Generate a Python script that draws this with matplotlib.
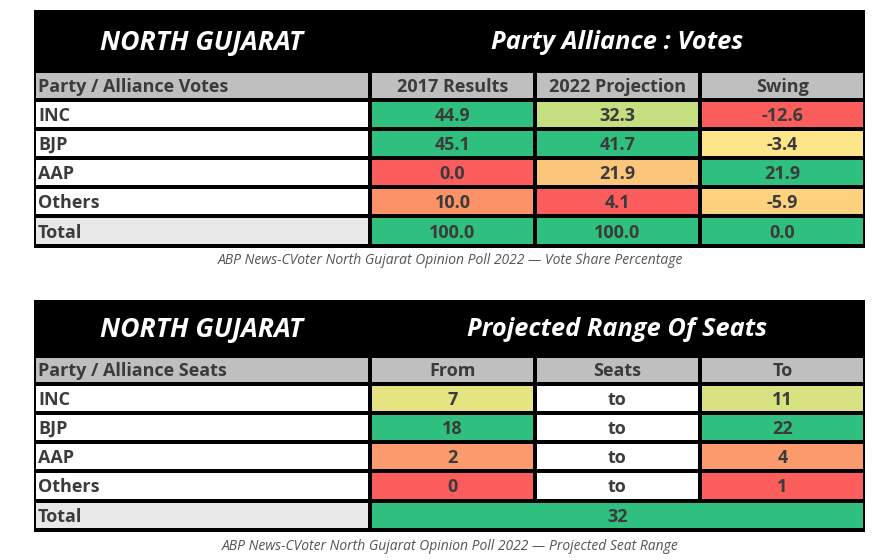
import matplotlib
matplotlib.use("Agg")
import matplotlib.pyplot as plt
from matplotlib.patches import Rectangle

# ---- data ----
parties = ["INC", "BJP", "AAP", "Others"]
vote_cols = ["2017 Results", "2022 Projection", "Swing"]
votes_2017 = [44.9, 45.1, 0.0, 10.0]
votes_2022 = [32.3, 41.7, 21.9, 4.1]
swing = [-12.6, -3.4, 21.9, -5.9]
total_votes = [100.0, 100.0, 0.0]

seat_cols = ["From", "Seats", "To"]
seats_from = [7, 18, 2, 0]
seats_to = [11, 22, 4, 1]
total_seats = 32

# colours of the reference's conditional formatting
GREEN = "#2fbf7f"
vote_colors = [
    [GREEN, "#c4de80", "#fb5c5c"],
    [GREEN, GREEN, "#fee58a"],
    ["#fb5c5c", "#fbc67c", GREEN],
    ["#fb9268", "#fb5c5c", "#fcd27e"],
]
seat_colors = [
    ["#e6e382", "white", "#d9e282"],
    [GREEN, "white", GREEN],
    ["#fb9a6c", "white", "#fb9a6c"],
    ["#fb5c5c", "white", "#fb5c5c"],
]

W, H = 884, 560
fig = plt.figure(figsize=(W / 100, H / 100), dpi=100)
ax = fig.add_axes([0, 0, 1, 1])
ax.set_xlim(0, W)
ax.set_ylim(H, 0)
ax.axis("off")

FONT = "Open Sans"
TXT = "#3b3b3b"
BODY = 13
col_x = [34, 370, 535, 700, 865]
g = 1.6


def cell(x0, x1, y0, y1, color):
    ax.add_patch(Rectangle((x0 + g, y0 + g), x1 - x0 - 2 * g, y1 - y0 - 2 * g,
                           facecolor=color, edgecolor="none", zorder=2))


def txt(x, y, s, ha="center", **kw):
    ax.text(x, y, s, fontsize=BODY, fontweight="bold", family=FONT, color=TXT,
            ha=ha, va="center", zorder=3, **kw)


def draw_table(top, title_bottom, row_edges, title_left, title_right,
               head_label, cols, body_text, body_colors, total_cells, caption, cap_y):
    bottom = row_edges[-1] + 2
    ax.add_patch(Rectangle((col_x[0], top), col_x[-1] - col_x[0], bottom - top,
                           facecolor="black", edgecolor="none", zorder=1))
    ty = (top + title_bottom) / 2 + 2
    ax.text((col_x[0] + col_x[1]) / 2, ty, title_left, color="white", fontsize=19.2,
            fontweight="bold", fontstyle="italic", family=FONT, ha="center", va="center", zorder=3)
    ax.text((col_x[1] + col_x[-1]) / 2, ty, title_right, color="white", fontsize=18.3,
            fontweight="bold", fontstyle="italic", family=FONT, ha="center", va="center", zorder=3)
    # header
    y0, y1 = title_bottom, row_edges[0]
    for c in range(4):
        cell(col_x[c], col_x[c + 1], y0, y1, "#bfbfbf")
    ym = (y0 + y1) / 2 + 1.5
    txt(col_x[0] + 4, ym, head_label, ha="left")
    for c, name in enumerate(cols):
        txt((col_x[c + 1] + col_x[c + 2]) / 2, ym, name)
    # body
    for r, p in enumerate(parties):
        y0, y1 = row_edges[r], row_edges[r + 1]
        ym = (y0 + y1) / 2 + 1.5
        cell(col_x[0], col_x[1], y0, y1, "white")
        txt(col_x[0] + 4, ym, p, ha="left")
        for c in range(3):
            cell(col_x[c + 1], col_x[c + 2], y0, y1, body_colors[r][c])
            txt((col_x[c + 1] + col_x[c + 2]) / 2, ym, body_text[r][c])
    # total
    y0, y1 = row_edges[4], row_edges[5]
    ym = (y0 + y1) / 2 + 1.5
    cell(col_x[0], col_x[1], y0, y1, "#e8e8e8")
    txt(col_x[0] + 4, ym, "Total", ha="left")
    for (c0, c1, s) in total_cells:
        cell(col_x[c0], col_x[c1], y0, y1, GREEN)
        txt((col_x[c0] + col_x[c1]) / 2, ym, s)
    ax.text(450, cap_y, caption, fontsize=10, fontstyle="italic", family="Open Sans",
            color="#555555", ha="center", va="center", zorder=3)


vote_text = [[f"{votes_2017[i]:.1f}", f"{votes_2022[i]:.1f}", f"{swing[i]:.1f}"]
             for i in range(4)]
draw_table(10, 71, [100, 129, 158, 187, 216, 246], "NORTH GUJARAT", "Party Alliance : Votes",
           "Party / Alliance Votes", vote_cols, vote_text, vote_colors,
           [(1, 2, f"{total_votes[0]:.1f}"), (2, 3, f"{total_votes[1]:.1f}"),
            (3, 4, f"{total_votes[2]:.1f}")],
           "ABP News-CVoter North Gujarat Opinion Poll 2022 \u2014 Vote Share Percentage", 261)

seat_text = [[str(seats_from[i]), "to", str(seats_to[i])] for i in range(4)]
draw_table(300, 356, [384, 413, 442, 471, 501, 530], "NORTH GUJARAT", "Projected Range Of Seats",
           "Party / Alliance Seats", seat_cols, seat_text, seat_colors,
           [(1, 4, str(total_seats))],
           "ABP News-CVoter North Gujarat Opinion Poll 2022 \u2014 Projected Seat Range", 546)

fig.savefig("out.png", dpi=100)
